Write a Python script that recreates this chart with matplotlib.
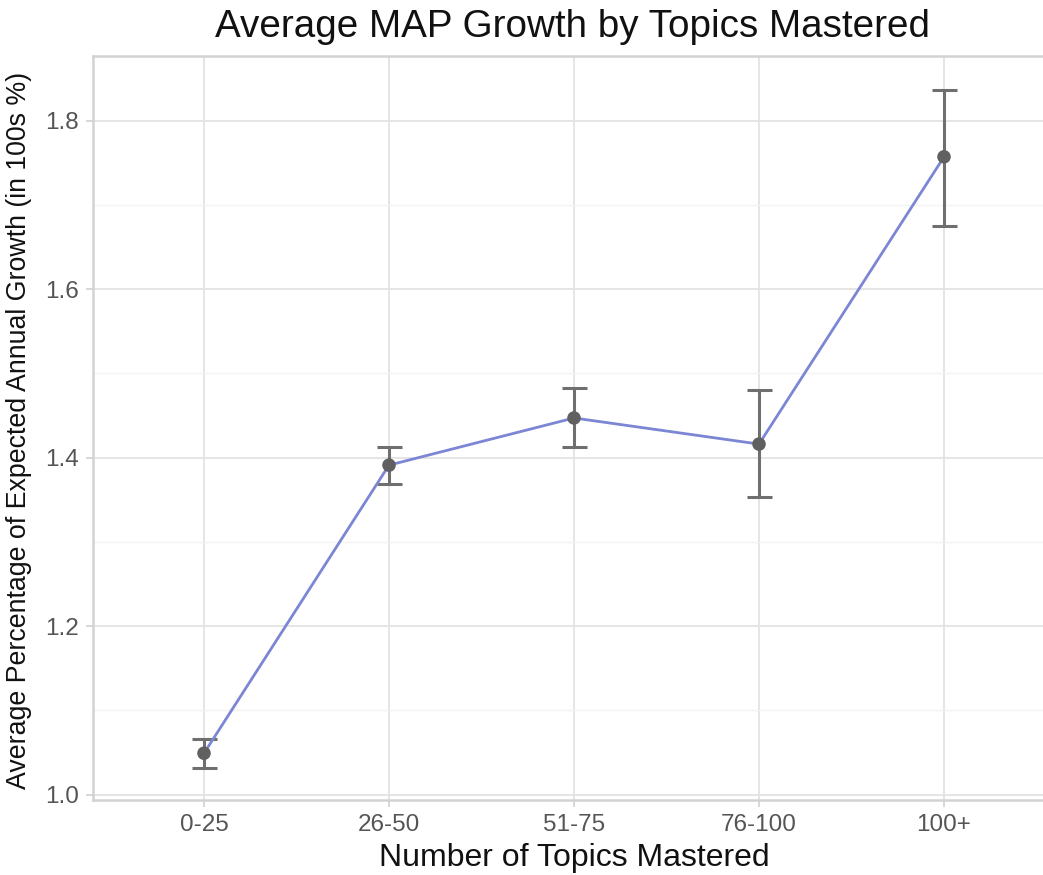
import matplotlib
matplotlib.use("Agg")
import matplotlib.pyplot as plt
from matplotlib.ticker import MultipleLocator

categories = ["0-25", "26-50", "51-75", "76-100", "100+"]
means = [1.049, 1.391, 1.447, 1.416, 1.757]
upper = [1.066, 1.413, 1.483, 1.480, 1.836]
lower = [1.032, 1.369, 1.412, 1.353, 1.675]

plt.rcParams['font.family'] = ['Liberation Sans', 'DejaVu Sans']

W, H = 1043, 875
fig = plt.figure(figsize=(W / 100, H / 100), dpi=100)
left, right, top, bottom = 93, 1055, 56, 800
ax = fig.add_axes([left / W, 1 - bottom / H, (right - left) / W, (bottom - top) / H])

x = list(range(1, len(categories) + 1))
yerr = [[m - l for m, l in zip(means, lower)], [u - m for u, m in zip(upper, means)]]

ax.errorbar(x, means, yerr=yerr, fmt='none', ecolor='#6f6f6f', elinewidth=2.2,
            capsize=9, capthick=2.2, zorder=3)
ax.plot(x, means, color='#7B86D4', lw=2.0, zorder=4)
ax.scatter(x, means, s=95, color='#606060', zorder=5, edgecolors='none')

ax.set_xlim(0.4, 5.6)
ax.set_ylim(0.9935, 1.8767)
ax.set_xticks(x)
ax.set_xticklabels(categories)
ax.yaxis.set_major_locator(MultipleLocator(0.2))
ax.yaxis.set_minor_locator(MultipleLocator(0.1))
ax.yaxis.set_major_formatter(matplotlib.ticker.FormatStrFormatter('%.1f'))

ax.grid(which='major', color='#e3e3e3', lw=1.3, zorder=0)
ax.grid(which='minor', axis='y', color='#f3f3f3', lw=1.0, zorder=0)
ax.set_axisbelow(True)

for s in ['left', 'top', 'bottom']:
    ax.spines[s].set_color('#d2d2d2')
    ax.spines[s].set_linewidth(1.8)
ax.spines['right'].set_visible(False)

ax.tick_params(axis='both', which='major', length=5, width=1.2, color='#cfcfcf',
               labelsize=17.5, labelcolor='#555555', pad=5)
ax.tick_params(axis='y', which='minor', length=0)

fig.text(574 / W, 1 - 866 / H, "Number of Topics Mastered", fontsize=23,
         ha='center', va='baseline', color='#111111')
fig.text(19 / W, 1 - 430 / H, "Average Percentage of Expected Annual Growth (in 100s %)",
         fontsize=19.3, rotation=90, ha='center', va='center', color='#111111')
fig.text(572.5 / W, 1 - 37 / H, "Average MAP Growth by Topics Mastered",
         fontsize=27.8, ha='center', va='baseline', color='#111111')

fig.savefig("out.png", dpi=100)
